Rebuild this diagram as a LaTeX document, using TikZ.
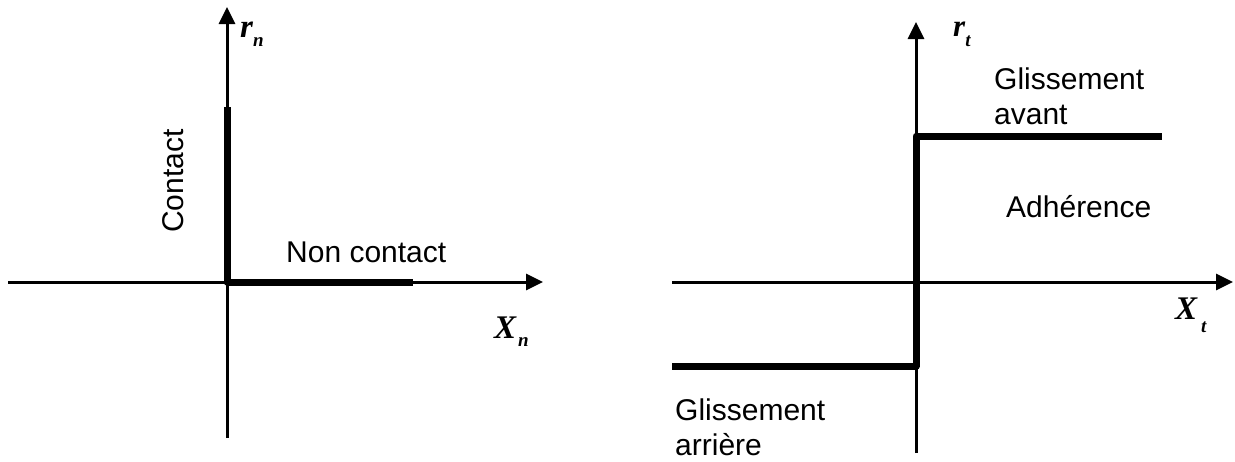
\documentclass[tikz,border=0pt]{standalone}
\usepackage{fontspec}
\setmainfont{Liberation Sans}
\newfontfamily\tms{Liberation Serif}
\usetikzlibrary{arrows.meta}
\begin{document}
\begin{tikzpicture}[x=1pt,y=-1pt,
  axis/.style={line width=3pt,-{Triangle[length=17pt,width=16pt]}},
  thickline/.style={line width=7pt,line join=round},
  lbl/.style={inner sep=0pt,font=\fontsize{30}{35}\selectfont},
  mlbl/.style={inner sep=0pt,anchor=base west,font=\tms\bfseries\itshape}]
\useasboundingbox (0,0) rectangle (1235,461);
% left diagram
\coordinate (o1) at (227,282);
\coordinate (l1) at (8,282);
\coordinate (r1) at (543,282);
\coordinate (b1) at (227,438);
\coordinate (t1) at (227,7);
\coordinate (c1) at (227,107);
\coordinate (n1) at (413,282);
\draw[axis] (l1) -- (r1);
\draw[axis] (b1) -- (t1);
\draw[thickline] (c1) -- (o1) -- (n1);
\node[lbl,anchor=base,rotate=90] (contact) at (183,181) {Contact};
\node[lbl,anchor=base west] (noncontact) at (286,262) {Non contact};
\node[mlbl] (rn) at (240,37) {\fontsize{33}{33}\selectfont r\kern0pt\raisebox{-9pt}{\fontsize{19}{19}\selectfont n}};
\node[mlbl] (xn) at (494,338) {\fontsize{33}{33}\selectfont X\kern2pt\raisebox{-8pt}{\fontsize{19}{19}\selectfont n}};
% right diagram
\coordinate (o2) at (916,282);
\coordinate (l2) at (672,282);
\coordinate (r2) at (1233,282);
\coordinate (b2) at (916,453);
\coordinate (t2) at (916,22);
\coordinate (s1) at (672,366);
\coordinate (s2) at (916,366);
\coordinate (s3) at (916,136);
\coordinate (s4) at (1162,136);
\draw[axis] (l2) -- (r2);
\draw[axis] (b2) -- (t2);
\draw[thickline] (s1) -- (s2) -- (s3) -- (s4);
\node[lbl,anchor=north west,align=left] (gav) at (994,68) {Glissement\\avant};
\node[lbl,anchor=base west] (adh) at (1006,217) {Adhérence};
\node[lbl,anchor=north west,align=left] (gar) at (675,399) {Glissement\\arrière};
\node[mlbl] (rt) at (953,36) {\fontsize{31}{31}\selectfont r\kern0pt\raisebox{-10pt}{\fontsize{19}{19}\selectfont t}};
\node[mlbl] (xt) at (1175,319) {\fontsize{33}{33}\selectfont X\kern4pt\raisebox{-13pt}{\fontsize{19}{19}\selectfont t}};
\end{tikzpicture}
\end{document}
